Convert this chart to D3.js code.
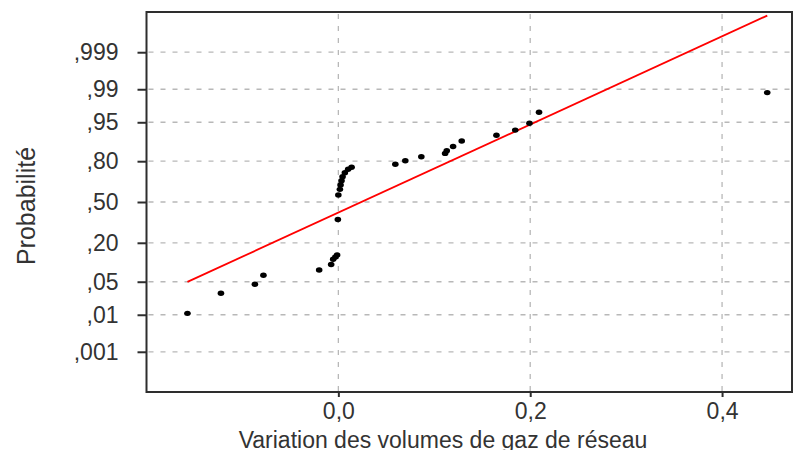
<!DOCTYPE html>
<html>
<head>
<meta charset="utf-8">
<script src="https://cdn.jsdelivr.net/npm/d3@7"></script>
<style>
  html, body { margin: 0; padding: 0; background: #ffffff; }
  svg { display: block; font-family: "Liberation Sans", Arial, sans-serif; }
</style>
</head>
<body>
<svg id="chart" width="793" height="450"></svg>
<script>
// ---- data ----
const xTickValues = [0.0, 0.2, 0.4];
const xTickLabels = ["0,0", "0,2", "0,4"];
const probTicks = [0.001, 0.01, 0.05, 0.20, 0.50, 0.80, 0.95, 0.99, 0.999];
const probLabels = [",001", ",01", ",05", ",20", ",50", ",80", ",95", ",99", ",999"];

const xValues = [-0.1573, -0.1224, -0.0870, -0.0781, -0.0200, -0.0075, -0.0054, -0.0031, -0.0013, -0.0005,
                 0.0000, 0.0016, 0.0023, 0.0033, 0.0044, 0.0068, 0.0102, 0.0138, 0.0594, 0.0698,
                 0.0865, 0.1113, 0.1130, 0.1196, 0.1286, 0.1648, 0.1844, 0.1992, 0.2092, 0.4471];
const probValues = [0.0108, 0.0298, 0.0448, 0.0653, 0.0803, 0.0987, 0.1186, 0.1282, 0.1372, 0.359,
                    0.557, 0.603, 0.637, 0.670, 0.699, 0.727, 0.750, 0.763, 0.782, 0.803,
                    0.825, 0.842, 0.855, 0.874, 0.896, 0.916, 0.931, 0.948, 0.968, 0.988];
const fitMean = 0.024;
const fitSd = 0.110;

const xTitle = "Variation des volumes de gaz de réseau";
const yTitle = "Probabilité";

// inverse standard normal CDF (Acklam)
function qnorm(p) {
  const a = [-3.969683028665376e+01, 2.209460984245205e+02, -2.759285104469687e+02, 1.383577518672690e+02, -3.066479806614716e+01, 2.506628277459239e+00];
  const b = [-5.447609879822406e+01, 1.615858368580409e+02, -1.556989798598866e+02, 6.680131188771972e+01, -1.328068155288572e+01];
  const c = [-7.784894002430293e-03, -3.223964580411365e-01, -2.400758277161838e+00, -2.549732539343734e+00, 4.374664141464968e+00, 2.938163982698783e+00];
  const d = [7.784695709041462e-03, 3.224671290700398e-01, 2.445134137142996e+00, 3.754408661907416e+00];
  const pl = 0.02425, ph = 1 - pl;
  let q, r;
  if (p < pl) {
    q = Math.sqrt(-2 * Math.log(p));
    return (((((c[0]*q+c[1])*q+c[2])*q+c[3])*q+c[4])*q+c[5]) / ((((d[0]*q+d[1])*q+d[2])*q+d[3])*q+1);
  } else if (p <= ph) {
    q = p - 0.5; r = q * q;
    return (((((a[0]*r+a[1])*r+a[2])*r+a[3])*r+a[4])*r+a[5])*q / (((((b[0]*r+b[1])*r+b[2])*r+b[3])*r+b[4])*r+1);
  } else {
    q = Math.sqrt(-2 * Math.log(1 - p));
    return -(((((c[0]*q+c[1])*q+c[2])*q+c[3])*q+c[4])*q+c[5]) / ((((d[0]*q+d[1])*q+d[2])*q+d[3])*q+1);
  }
}

// ---- layout ----
const plotL = 146.5, plotR = 792, plotT = 12, plotB = 392;
const svg = d3.select("#chart");

const x = d3.scaleLinear().domain([-0.2, 0.4729]).range([plotL, plotR]);
const y = d3.scaleLinear().domain([-3.92, 3.92]).range([plotB, plotT]);

// grid
const grid = svg.append("g").attr("stroke", "#b8b8b8").attr("stroke-width", 1.3).attr("stroke-dasharray", "5,7");
grid.selectAll("line.h").data(probTicks).join("line")
  .attr("x1", plotL + 2).attr("x2", plotR)
  .attr("y1", d => y(qnorm(d))).attr("y2", d => y(qnorm(d)));
grid.selectAll("line.v").data(xTickValues).join("line")
  .attr("y1", plotT + 2).attr("y2", plotB)
  .attr("x1", d => x(d)).attr("x2", d => x(d));

// frame
svg.append("rect").attr("x", plotL).attr("y", plotT).attr("width", plotR - plotL).attr("height", plotB - plotT)
  .attr("fill", "none").attr("stroke", "#2e2e2e").attr("stroke-width", 2);

// axes
const yAxis = d3.axisLeft(y)
  .tickValues(probTicks.map(qnorm))
  .tickFormat((d, i) => probLabels[i])
  .tickSize(9).tickPadding(19);
const gy = svg.append("g").attr("transform", `translate(${plotL},0)`).call(yAxis);
gy.select(".domain").remove();
gy.selectAll(".tick line").attr("stroke", "#2e2e2e").attr("stroke-width", 2);
gy.selectAll(".tick text").attr("font-size", 23).attr("fill", "#333").attr("font-family", "'Liberation Sans', Arial, sans-serif");

const xAxis = d3.axisBottom(x)
  .tickValues(xTickValues)
  .tickFormat((d, i) => xTickLabels[i])
  .tickSize(5).tickPadding(6);
const gx = svg.append("g").attr("transform", `translate(0,${plotB})`).call(xAxis);
gx.select(".domain").remove();
gx.selectAll(".tick line").attr("stroke", "#2e2e2e").attr("stroke-width", 2);
gx.selectAll(".tick text").attr("font-size", 23).attr("fill", "#333").attr("font-family", "'Liberation Sans', Arial, sans-serif");

// fitted normal line
const xMin = d3.min(xValues), xMax = d3.max(xValues);
const linePts = [xMin, xMax].map(v => [v, (v - fitMean) / fitSd]);
svg.append("path")
  .attr("d", d3.line().x(d => x(d[0])).y(d => y(d[1]))(linePts))
  .attr("fill", "none").attr("stroke", "#ff0000").attr("stroke-width", 1.8);

// points
const pts = xValues.map((v, i) => ({ x: v, p: probValues[i] }));
svg.append("g").selectAll("ellipse").data(pts).join("ellipse")
  .attr("cx", d => x(d.x)).attr("cy", d => y(qnorm(d.p)))
  .attr("rx", 3.3).attr("ry", 2.7).attr("fill", "#000");

// titles
svg.append("text").attr("x", 443).attr("y", 448)
  .attr("text-anchor", "middle").attr("font-size", 23).attr("fill", "#333").text(xTitle);
svg.append("text").attr("transform", "translate(35,206) rotate(-90)")
  .attr("text-anchor", "middle").attr("font-size", 25).attr("fill", "#333").text(yTitle);
</script>
</body>
</html>
